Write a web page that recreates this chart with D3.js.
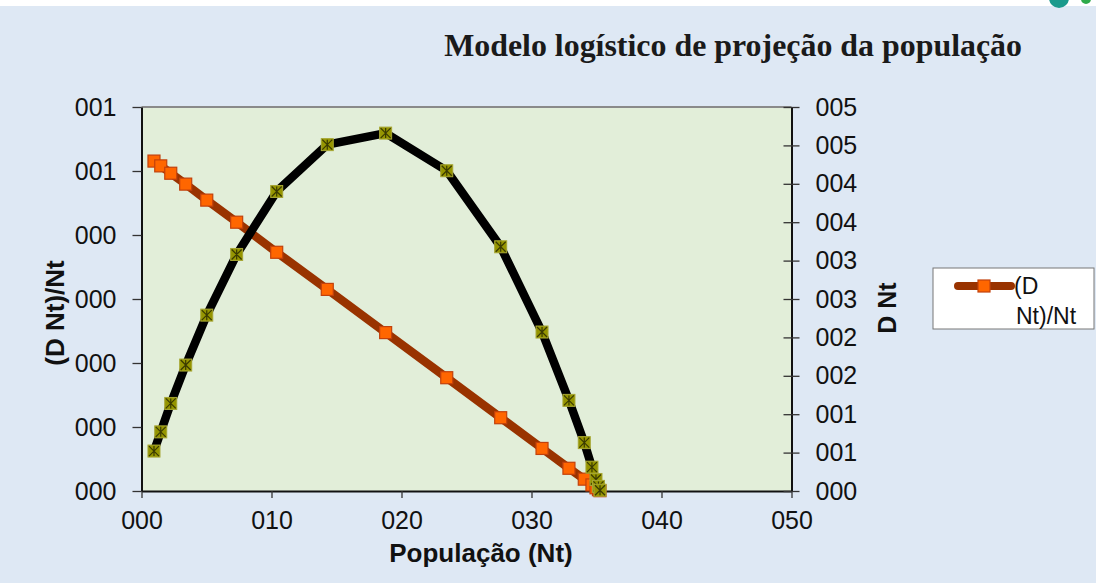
<!DOCTYPE html>
<html>
<head>
<meta charset="utf-8">
<script src="https://cdn.jsdelivr.net/npm/d3@7"></script>
<style>
  html, body { margin: 0; padding: 0; background: #ffffff; }
  svg { display: block; }
  .tick text { font-family: "Liberation Sans", Arial, sans-serif; }
</style>
</head>
<body>
<div class="chart"></div>
<script>
// Population (Nt) on the x axis
const populacao = [0.96, 1.48, 2.25, 3.40, 5.02, 7.32, 10.40, 14.29, 18.78, 23.48, 27.63, 30.81, 32.88, 34.06, 34.65, 34.96, 35.15, 35.27];
// (D Nt)/Nt, left axis
const taxa = [1.031, 1.016, 0.993, 0.959, 0.909, 0.840, 0.746, 0.630, 0.495, 0.354, 0.229, 0.133, 0.071, 0.037, 0.019, 0.010, 0.004, 0.001];
// D Nt, right axis
const dNt = [0.52, 0.77, 1.14, 1.64, 2.29, 3.08, 3.90, 4.51, 4.66, 4.17, 3.18, 2.07, 1.18, 0.63, 0.31, 0.15, 0.06, 0.01];

// tick values and their (oddly rounded) labels as they appear
const xTicks = [0, 10, 20, 30, 40, 50];
const xLabels = ["000", "010", "020", "030", "040", "050"];
const leftTicks = [0, 0.2, 0.4, 0.6, 0.8, 1.0, 1.2];
const leftLabels = ["000", "000", "000", "000", "000", "001", "001"];
const rightTicks = [0, 0.5, 1, 1.5, 2, 2.5, 3, 3.5, 4, 4.5, 5];
const rightLabels = ["000", "001", "001", "002", "002", "003", "003", "004", "004", "005", "005"];

const width = 1096;
const height = 583;
const plot = { left: 141.5, right: 791.5, top: 107, bottom: 491 };

const svg = d3.select(".chart")
    .append("svg")
    .attr("width", width)
    .attr("height", height);

// page background
svg.append("rect").attr("x", 0).attr("y", 6).attr("width", width).attr("height", height - 6).attr("fill", "#dee8f4");
// logo fragments peeking in at the top
svg.append("ellipse").attr("cx", 1059).attr("cy", -2).attr("rx", 10).attr("ry", 10).attr("fill", "#1a9a8c");
svg.append("ellipse").attr("cx", 1086).attr("cy", -1).attr("rx", 5).attr("ry", 5).attr("fill", "#2eaa4a");

// title
svg.append("text")
    .attr("x", 1022)
    .attr("y", 56)
    .attr("text-anchor", "end")
    .attr("font-family", "'Liberation Serif', 'Times New Roman', serif")
    .attr("font-weight", "bold")
    .attr("font-size", 31.9)
    .attr("fill", "#1a1a1a")
    .text("Modelo logístico de projeção da população");

const x = d3.scaleLinear().domain([0, 50]).range([plot.left, plot.right]);
const yL = d3.scaleLinear().domain([0, 1.2]).range([plot.bottom, plot.top]);
const yR = d3.scaleLinear().domain([0, 5]).range([plot.bottom, plot.top]);

// plot area
svg.append("rect")
    .attr("x", plot.left)
    .attr("y", plot.top)
    .attr("width", plot.right - plot.left)
    .attr("height", plot.bottom - plot.top)
    .attr("fill", "#e2eed9");
svg.append("line")
    .attr("x1", plot.left).attr("x2", plot.right)
    .attr("y1", plot.top).attr("y2", plot.top)
    .attr("stroke", "#8a8a8a").attr("stroke-width", 2);

// axes
const tickFont = 25;
const gx = svg.append("g")
    .attr("transform", `translate(0,${plot.bottom})`)
    .call(d3.axisBottom(x).tickValues(xTicks).tickSize(7).tickSizeOuter(0).tickPadding(8)
        .tickFormat((d, i) => xLabels[i]));
const gl = svg.append("g")
    .attr("transform", `translate(${plot.left},0)`)
    .call(d3.axisLeft(yL).tickValues(leftTicks).tickSize(9).tickSizeOuter(0).tickPadding(16)
        .tickFormat((d, i) => leftLabels[i]));
const gr = svg.append("g")
    .attr("transform", `translate(${plot.right},0)`)
    .call(d3.axisRight(yR).tickValues(rightTicks).tickSize(8).tickSizeOuter(0).tickPadding(16)
        .tickFormat((d, i) => rightLabels[i]));
// right ticks cross the axis line
gr.selectAll(".tick line").attr("x1", -8);

[gx, gl, gr].forEach(g => {
    g.select(".domain").attr("stroke", "#111").attr("stroke-width", 2);
    g.selectAll(".tick line").attr("stroke", "#333").attr("stroke-width", 1.3);
    g.selectAll(".tick text").attr("font-size", tickFont).attr("fill", "#111");
});
gx.selectAll(".tick text").attr("dy", "0.9em");

// axis titles
const titleFont = "'Liberation Sans', Arial, sans-serif";
svg.append("text")
    .attr("x", 481).attr("y", 562)
    .attr("text-anchor", "middle")
    .attr("font-family", titleFont).attr("font-weight", "bold").attr("font-size", 26)
    .attr("fill", "#111")
    .text("População (Nt)");
svg.append("text")
    .attr("transform", "translate(64,313) rotate(-90)")
    .attr("text-anchor", "middle")
    .attr("font-family", titleFont).attr("font-weight", "bold").attr("font-size", 26)
    .attr("fill", "#111")
    .text("(D Nt)/Nt");
svg.append("text")
    .attr("transform", "translate(896,308) rotate(-90)")
    .attr("text-anchor", "middle")
    .attr("font-family", titleFont).attr("font-weight", "bold").attr("font-size", 25)
    .attr("fill", "#111")
    .text("D Nt");

// series
const taxaPts = populacao.map((p, i) => [p, taxa[i]]);
const dNtPts = populacao.map((p, i) => [p, dNt[i]]);

const lineL = d3.line().x(d => x(d[0])).y(d => yL(d[1]));
const lineR = d3.line().x(d => x(d[0])).y(d => yR(d[1]));

const ms = 12; // marker size

svg.append("path")
    .attr("d", lineL(taxaPts))
    .attr("fill", "none")
    .attr("stroke", "#993300")
    .attr("stroke-width", 8.5)
    .attr("stroke-linejoin", "round");
svg.append("g").selectAll("rect")
    .data(taxaPts)
    .enter()
    .append("rect")
    .attr("x", d => x(d[0]) - ms / 2)
    .attr("y", d => yL(d[1]) - ms / 2)
    .attr("width", ms).attr("height", ms)
    .attr("fill", "#ff6600")
    .attr("stroke", "#c2410c")
    .attr("stroke-width", 1.2);

svg.append("path")
    .attr("d", lineR(dNtPts))
    .attr("fill", "none")
    .attr("stroke", "#000")
    .attr("stroke-width", 8.5)
    .attr("stroke-linejoin", "round");
const star = svg.append("g").selectAll("g")
    .data(dNtPts)
    .enter()
    .append("g")
    .attr("transform", d => `translate(${x(d[0])},${yR(d[1])})`);
star.append("rect")
    .attr("x", -ms / 2).attr("y", -ms / 2)
    .attr("width", ms).attr("height", ms)
    .attr("fill", "#959500")
    .attr("stroke", "#a6a633")
    .attr("stroke-width", 1);
star.append("path")
    .attr("d", `M${-ms / 2 + 1},${-ms / 2 + 1}L${ms / 2 - 1},${ms / 2 - 1}M${ms / 2 - 1},${-ms / 2 + 1}L${-ms / 2 + 1},${ms / 2 - 1}M0,${-ms / 2 + 1}L0,${ms / 2 - 1}`)
    .attr("stroke", "#3a3a00")
    .attr("stroke-width", 1.2);

// legend (only the first series fits)
const lg = svg.append("g").attr("transform", "translate(933,268)");
lg.append("rect")
    .attr("width", 161).attr("height", 61)
    .attr("fill", "#fff")
    .attr("stroke", "#777").attr("stroke-width", 1);
lg.append("line")
    .attr("x1", 25).attr("x2", 78).attr("y1", 18).attr("y2", 18)
    .attr("stroke", "#993300").attr("stroke-width", 8).attr("stroke-linecap", "round");
lg.append("rect")
    .attr("x", 51 - ms / 2).attr("y", 18 - ms / 2)
    .attr("width", ms).attr("height", ms)
    .attr("fill", "#ff6600").attr("stroke", "#c2410c").attr("stroke-width", 1.2);
lg.append("text")
    .attr("x", 81).attr("y", 26)
    .attr("font-family", titleFont).attr("font-size", 23).attr("fill", "#111")
    .text("(D");
lg.append("text")
    .attr("x", 83).attr("y", 56)
    .attr("font-family", titleFont).attr("font-size", 23).attr("fill", "#111")
    .text("Nt)/Nt");
</script>
</body>
</html>
